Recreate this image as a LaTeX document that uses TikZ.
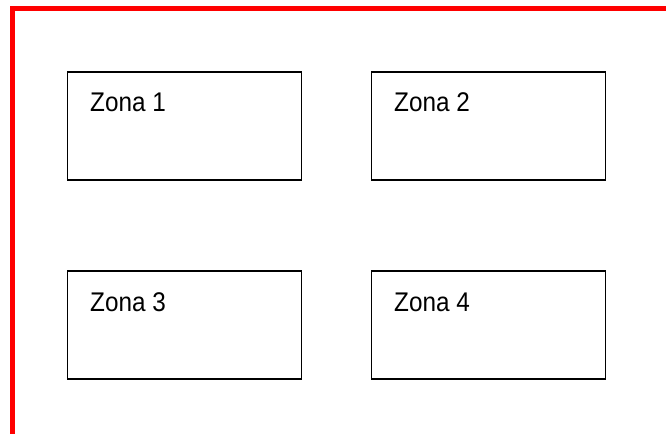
\documentclass[tikz,border=0pt]{standalone}
\usepackage{fontspec}
\setmainfont[FakeStretch=0.9]{Liberation Sans}
\usetikzlibrary{positioning}

\begin{document}
\begin{tikzpicture}[x=1pt, y=1pt,
  zone/.style={draw, line width=1.6pt, minimum width=234pt, minimum height=108pt,
               inner sep=0pt, outer sep=0pt, anchor=north west},
  lbl/.style={anchor=base west, inner sep=0pt, font=\fontsize{27pt}{32pt}\selectfont},
  frame/.style={draw=red, line width=5pt, line join=miter}
]
\useasboundingbox (0,0) rectangle (666,434);
% red frame (top and left side)
\coordinate (ftr) at (666,425.5);
\coordinate (ftl) at (12.75,425.5);
\coordinate (fbl) at (12.75,0);
\draw[frame] (ftr) -- (ftl) -- (fbl);

% zones
\node[zone] (z1) at (67.5,362) {};
\node[zone, right=70pt of z1] (z2) {};
\node[zone, below=91pt of z1] (z3) {};
\node[zone, right=70pt of z3] (z4) {};

\node[lbl] (t1) at ([shift={(22.5pt,-40pt)}]z1.north west) {Zona 1};
\node[lbl] (t2) at ([shift={(22.5pt,-40pt)}]z2.north west) {Zona 2};
\node[lbl] (t3) at ([shift={(22.5pt,-40pt)}]z3.north west) {Zona 3};
\node[lbl] (t4) at ([shift={(22.5pt,-40pt)}]z4.north west) {Zona 4};
\end{tikzpicture}
\end{document}
